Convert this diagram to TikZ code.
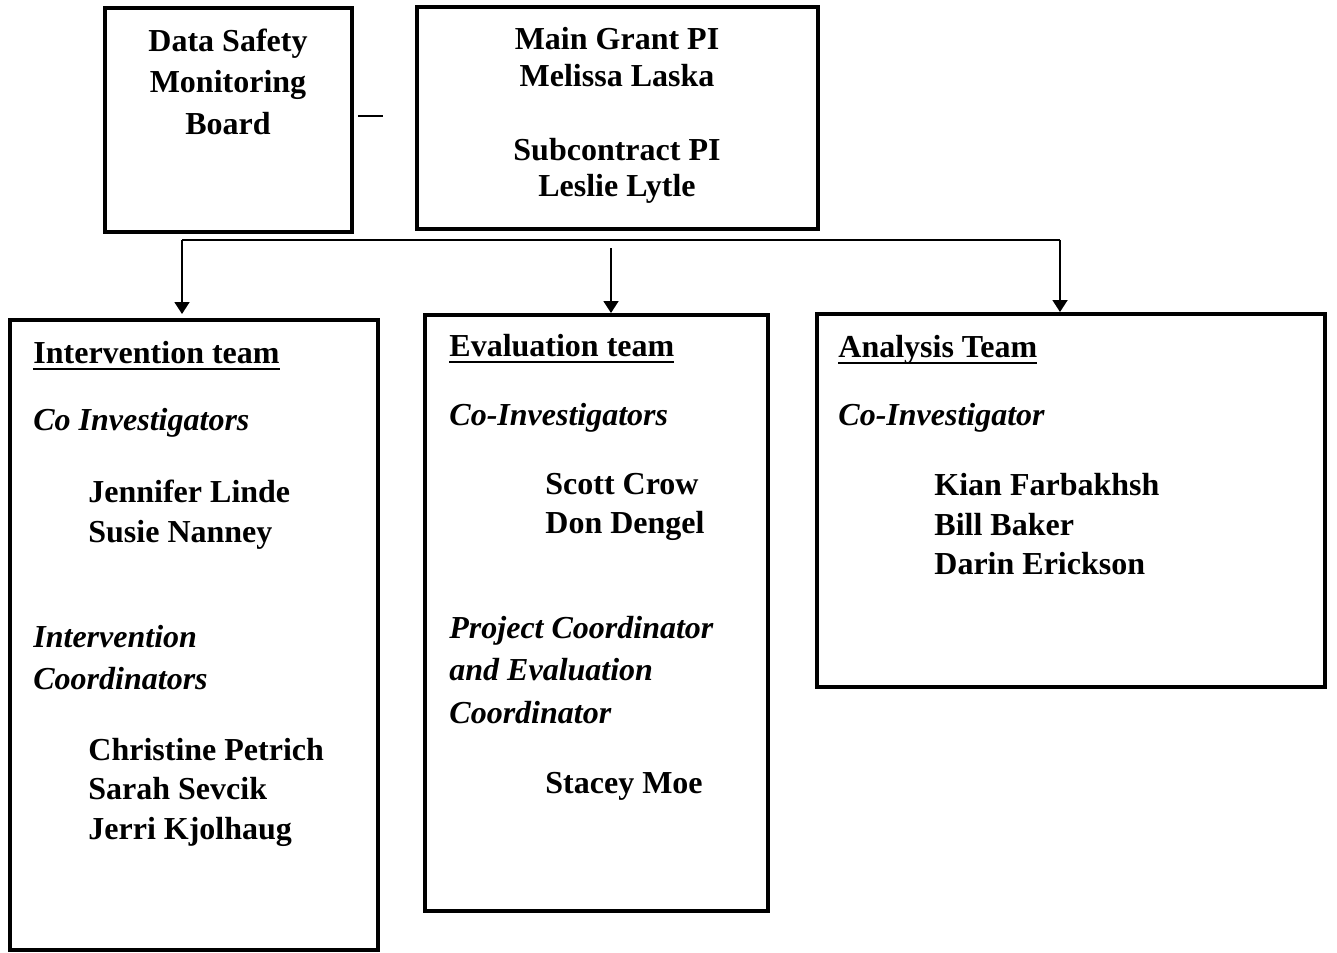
\documentclass[tikz,border=0pt]{standalone}
\usepackage{fontspec}
\setmainfont{Liberation Serif}
\usepackage{tikz}
\usetikzlibrary{arrows.meta, positioning}

% underlined team heading
\newcommand{\teamhead}[1]{\setbox0\hbox{#1}\rlap{\rule[-3.7pt]{\wd0}{1.4pt}}\box0}

\begin{document}
\begin{tikzpicture}[x=0.5pt, y=-0.5pt,
    box/.style={draw, line width=2pt, inner sep=0pt},
    txt/.style={inner sep=0pt, font=\fontsize{16pt}{20pt}\selectfont\bfseries},
    itxt/.style={txt, font=\fontsize{16pt}{20pt}\selectfont\bfseries\itshape},
    link/.style={line width=0.9pt},
    arrow/.style={link, -{Triangle[width=7.5pt, length=6pt]}}]
    \useasboundingbox (0,0) rectangle (1337,952);

    % Top boxes
    \node[box, minimum width=123.5pt, minimum height=112pt] (dsmb) at (228.5,120) {};
    \node[box, minimum width=200.5pt, minimum height=111pt] (pi) at (617.5,118) {};
    \node[txt, anchor=base] (dsmb1) at (228,52) {Data Safety};
    \node[txt, anchor=base] (dsmb2) at (228,93) {Monitoring};
    \node[txt, anchor=base] (dsmb3) at (228,135) {Board};
    \node[txt, anchor=base] (pi1) at (617,50) {Main Grant PI};
    \node[txt, anchor=base] (pi2) at (617,87) {Melissa Laska};
    \node[txt, anchor=base] (pi3) at (617,161) {Subcontract PI};
    \node[txt, anchor=base] (pi4) at (617,197) {Leslie Lytle};

    % Dash between top boxes
    \coordinate (dashL) at (358,116);
    \coordinate (dashR) at (383,116);
    \draw[link] (dashL) -- (dashR);

    % Team boxes
    \node[box, minimum width=184pt, minimum height=315pt] (interv) at (194,635) {};
    \node[box, minimum width=171.5pt, minimum height=298pt] (evalt) at (596.5,613) {};
    \node[box, minimum width=254pt, minimum height=186.5pt] (analysis) at (1071,500.5) {};

    % Intervention team
    \node[txt, anchor=base west] (ihead) at (33,363) {\teamhead{Intervention team}};
    \node[itxt, anchor=base west] (icoi) at (33,430) {Co Investigators};
    \node[txt, anchor=base west] (iname1) at (88,502) {Jennifer Linde};
    \node[txt, anchor=base west] (iname2) at (88,542) {Susie Nanney};
    \node[itxt, anchor=base west] (icoord1) at (33,647) {Intervention};
    \node[itxt, anchor=base west] (icoord2) at (33,689) {Coordinators};
    \node[txt, anchor=base west] (iname3) at (88,760) {Christine Petrich};
    \node[txt, anchor=base west] (iname4) at (88,799) {Sarah Sevcik};
    \node[txt, anchor=base west] (iname5) at (88,839) {Jerri Kjolhaug};

    % Evaluation team
    \node[txt, anchor=base west] (ehead) at (449,356) {\teamhead{Evaluation team}};
    \node[itxt, anchor=base west] (ecoi) at (449,425) {Co-Investigators};
    \node[txt, anchor=base west] (ename1) at (545,494) {Scott Crow};
    \node[txt, anchor=base west] (ename2) at (545,533) {Don Dengel};
    \node[itxt, anchor=base west] (ecoord1) at (449,638) {Project Coordinator};
    \node[itxt, anchor=base west] (ecoord2) at (449,680) {and Evaluation};
    \node[itxt, anchor=base west] (ecoord3) at (449,723) {Coordinator};
    \node[txt, anchor=base west] (ename3) at (545,793) {Stacey Moe};

    % Analysis team
    \node[txt, anchor=base west] (ahead) at (838,357) {\teamhead{Analysis Team}};
    \node[itxt, anchor=base west] (acoi) at (838,425) {Co-Investigator};
    \node[txt, anchor=base west] (aname1) at (934,495) {Kian Farbakhsh};
    \node[txt, anchor=base west] (aname2) at (934,535) {Bill Baker};
    \node[txt, anchor=base west] (aname3) at (934,574) {Darin Erickson};

    % Connectors
    \coordinate (busL) at (182,240);
    \coordinate (busR) at (1060,240);
    \coordinate (midtop) at (611,248);
    \draw[link] (busL) -- (busR);
    \draw[arrow, shorten >=2pt] (busL) -- (busL |- interv.north);
    \draw[arrow] (midtop) -- (midtop |- evalt.north);
    \draw[arrow] (busR) -- (busR |- analysis.north);
\end{tikzpicture}
\end{document}
